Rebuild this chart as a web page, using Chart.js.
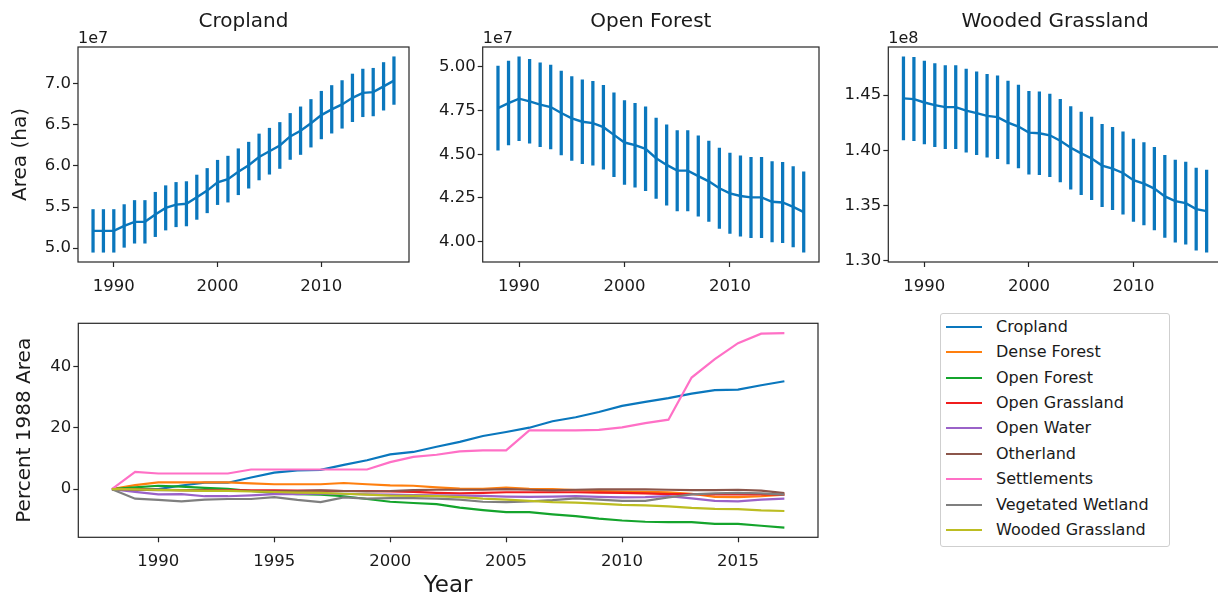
<!DOCTYPE html>
<html>
<head>
<meta charset="utf-8">
<script src="https://cdn.jsdelivr.net/npm/chart.js@4.4.1/dist/chart.umd.min.js"></script>
<style>
  html, body { margin: 0; padding: 0; background: #fff; width: 1218px; height: 598px; overflow: hidden; }
  canvas { position: absolute; }
  #legend { position: absolute; left: 940px; top: 313px; width: 228px; height: 232px;
            border: 1px solid #cfcfcf; border-radius: 3px; background: #fff;
            font-family: 'DejaVu Sans'; font-size: 16px; color: #1a1a1a; }
  #legend .row { position: absolute; left: 0; height: 20px; line-height: 20px; white-space: nowrap; }
  #legend .ln { position: absolute; left: 5px; top: 9px; width: 36px; height: 2px; }
  #legend .tx { position: absolute; left: 55px; top: 0; }
</style>
</head>
<body>
<canvas id="crop" width="415" height="300" style="left:0;top:0"></canvas>
<canvas id="openForest" width="405" height="300" style="left:420px;top:0"></canvas>
<canvas id="wooded" width="410" height="300" style="left:822px;top:0"></canvas>
<canvas id="percent" width="830" height="298" style="left:0;top:300px"></canvas>
<div id="legend"></div>
<script>
const years = [1988, 1989, 1990, 1991, 1992, 1993, 1994, 1995, 1996, 1997,
               1998, 1999, 2000, 2001, 2002, 2003, 2004, 2005, 2006, 2007,
               2008, 2009, 2010, 2011, 2012, 2013, 2014, 2015, 2016, 2017];

// top panels: mean area and error (scaled by 1e7 / 1e7 / 1e8)
const croplandArea = [5.21, 5.21, 5.21, 5.27, 5.32, 5.32, 5.41, 5.49, 5.53, 5.54,
                      5.62, 5.70, 5.80, 5.84, 5.93, 6.01, 6.11, 6.18, 6.25, 6.36,
                      6.43, 6.52, 6.62, 6.69, 6.75, 6.83, 6.89, 6.90, 6.97, 7.04];
const croplandErr = [0.26, 0.26, 0.26, 0.26, 0.26, 0.26, 0.27, 0.27, 0.27, 0.27,
                     0.27, 0.27, 0.27, 0.28, 0.28, 0.28, 0.28, 0.28, 0.28, 0.28,
                     0.29, 0.29, 0.29, 0.29, 0.29, 0.29, 0.29, 0.29, 0.29, 0.29];

const openForestArea = [4.764, 4.793, 4.818, 4.803, 4.784, 4.770, 4.736, 4.705, 4.686, 4.678,
                        4.655, 4.611, 4.567, 4.552, 4.531, 4.477, 4.439, 4.406, 4.406, 4.375,
                        4.345, 4.305, 4.276, 4.261, 4.253, 4.253, 4.228, 4.224, 4.199, 4.169];
const openForestErr = [0.24, 0.24, 0.24, 0.24, 0.24, 0.24, 0.24, 0.24, 0.24, 0.24,
                       0.24, 0.24, 0.24, 0.24, 0.24, 0.23, 0.23, 0.23, 0.23, 0.23,
                       0.23, 0.23, 0.23, 0.23, 0.23, 0.23, 0.23, 0.23, 0.23, 0.23];

const woodedArea = [1.4470, 1.4464, 1.4433, 1.4409, 1.4391, 1.4391, 1.4360, 1.4336, 1.4312, 1.4300,
                    1.4251, 1.4215, 1.4160, 1.4154, 1.4136, 1.4087, 1.4023, 1.3972, 1.3926, 1.3862,
                    1.3835, 1.3795, 1.3729, 1.3698, 1.3653, 1.3583, 1.3540, 1.3522, 1.3467, 1.3449];
const woodedErr = [0.0377, 0.0377, 0.0376, 0.0376, 0.0376, 0.0376, 0.0376, 0.0375, 0.0375, 0.0375,
                   0.0375, 0.0375, 0.0375, 0.0375, 0.0374, 0.0374, 0.0374, 0.0374, 0.0374, 0.0373,
                   0.0373, 0.0373, 0.0373, 0.0373, 0.0373, 0.0372, 0.0372, 0.0372, 0.0372, 0.0372];

// bottom panel: percent change vs 1988
const classNames = ['Cropland', 'Dense Forest', 'Open Forest', 'Open Grassland', 'Open Water',
                    'Otherland', 'Settlements', 'Vegetated Wetland', 'Wooded Grassland'];
const classColors = ['#0a77bd', '#ff7f0e', '#14a42c', '#f01c1c', '#9a62c8',
                     '#8c564b', '#ff70c6', '#7f7f7f', '#bcbd22'];

const pctCropland = [0, 0, 0, 1.2, 2.1, 2.1, 3.8, 5.4, 6.1, 6.3,
                     7.9, 9.4, 11.3, 12.1, 13.8, 15.4, 17.3, 18.6, 20.0, 22.1,
                     23.4, 25.1, 27.1, 28.4, 29.6, 31.1, 32.2, 32.4, 33.8, 35.1];
const pctDenseForest = [0, 1.3, 2.2, 2.2, 2.2, 2.2, 1.9, 1.6, 1.6, 1.6,
                        2.0, 1.6, 1.2, 1.1, 0.6, 0.2, 0.1, 0.5, 0.1, 0.0,
                        -0.3, -0.6, -0.8, -0.9, -1.0, -1.5, -2.5, -2.6, -2.3, -1.8];
const pctOpenForest = [0, 0.6, 1.1, 0.8, 0.4, 0.1, -0.6, -1.2, -1.6, -1.8,
                       -2.3, -3.2, -4.1, -4.5, -4.9, -6.0, -6.8, -7.5, -7.5, -8.2,
                       -8.8, -9.6, -10.2, -10.6, -10.7, -10.7, -11.3, -11.3, -11.9, -12.5];
const pctOpenGrassland = [0, -0.1, -0.2, -0.3, -0.3, -0.3, -0.4, -0.4, -0.5, -0.5,
                          -0.6, -0.6, -0.7, -0.9, -1.2, -1.4, -1.2, -1.0, -1.0, -1.0,
                          -1.0, -1.1, -1.2, -1.4, -1.6, -1.6, -1.7, -1.7, -1.7, -1.8];
const pctOpenWater = [0, -0.9, -1.7, -1.6, -2.3, -2.3, -2.0, -1.6, -1.6, -1.4,
                      -1.5, -1.7, -1.8, -1.9, -2.0, -2.1, -2.2, -2.4, -2.5, -2.4,
                      -2.3, -2.5, -2.7, -2.6, -2.3, -3.0, -3.8, -4.0, -3.4, -3.1];
const pctOtherland = [0, -0.2, -0.3, -0.3, -0.4, -0.5, -0.6, -0.7, -0.6, -0.4,
                      -0.6, -0.7, -0.6, -0.3, -0.2, -0.2, -0.2, 0.0, -0.2, -0.4,
                      -0.2, -0.1, -0.1, -0.1, -0.2, -0.3, -0.3, -0.2, -0.5, -1.3];
const pctSettlements = [0, 5.6, 5.1, 5.1, 5.1, 5.1, 6.4, 6.4, 6.4, 6.4,
                        6.4, 6.4, 8.8, 10.5, 11.2, 12.3, 12.6, 12.6, 19.1, 19.1,
                        19.1, 19.3, 20.1, 21.5, 22.6, 36.3, 42.3, 47.5, 50.6, 50.8];
const pctVegWetland = [0, -3.1, -3.5, -4.0, -3.4, -3.2, -3.2, -2.6, -3.5, -4.2,
                       -2.7, -3.1, -2.9, -2.9, -3.1, -3.4, -4.1, -4.2, -4.0, -3.6,
                       -3.0, -3.4, -3.8, -3.8, -2.7, -1.7, -1.4, -1.2, -1.4, -1.8];
const pctWooded = [0, -0.04, -0.26, -0.42, -0.55, -0.55, -0.76, -0.93, -1.1, -1.2,
                   -1.5, -1.8, -2.1, -2.2, -2.3, -2.6, -3.1, -3.4, -3.8, -4.2,
                   -4.4, -4.7, -5.1, -5.3, -5.6, -6.1, -6.4, -6.5, -6.9, -7.1];
const pctSeries = [pctCropland, pctDenseForest, pctOpenForest, pctOpenGrassland, pctOpenWater,
                   pctOtherland, pctSettlements, pctVegWetland, pctWooded];

const FONT = 'DejaVu Sans';
const TEXT = '#1a1a1a';
const AXIS = '#262626';
const BLUE = '#0a77bd';

// matplotlib-like frame round the plot area, plus the "1e7" offset label
const framePlugin = {
  id: 'frame',
  afterDraw(chart, args, opts) {
    const { ctx, chartArea: a } = chart;
    ctx.save();
    ctx.strokeStyle = AXIS;
    ctx.lineWidth = 1.2;
    ctx.strokeRect(a.left, a.top, a.right - a.left, a.bottom - a.top);
    if (opts.offsetText) {
      ctx.fillStyle = TEXT;
      ctx.font = '16px "' + FONT + '"';
      ctx.textAlign = 'left';
      ctx.textBaseline = 'alphabetic';
      ctx.fillText(opts.offsetText, a.left, a.top - 4.5);
    }
    ctx.restore();
  }
};

function pad(lo, hi) {
  const m = (hi - lo) * 0.05;
  return [lo - m, hi + m];
}
const [xMin, xMax] = pad(years[0], years[years.length - 1]);

function axisX(stepSize, height, title) {
  return {
    type: 'linear', min: xMin, max: xMax, offset: false,
    afterFit: s => { s.height = height; },
    grid: { drawOnChartArea: false, offset: false, tickLength: 5, color: AXIS, tickWidth: 1.2 },
    border: { display: false },
    ticks: { stepSize: stepSize, includeBounds: false, padding: 10, color: TEXT, maxRotation: 0,
             autoSkip: false, font: { family: FONT, size: 16.5 }, callback: v => String(v) },
    title: title ? { display: true, text: title, color: TEXT, font: { family: FONT, size: 23, lineHeight: 1 },
                     padding: { top: 0, bottom: 0.5 } } : { display: false }
  };
}

function axisY(min, max, stepSize, decimals, width, title, titlePad) {
  return {
    min: min, max: max,
    afterFit: s => { s.width = width; },
    grid: { drawOnChartArea: false, tickLength: 5, color: AXIS, tickWidth: 1.2 },
    border: { display: false },
    ticks: { stepSize: stepSize, includeBounds: false, padding: 2, color: TEXT,
             font: { family: FONT, size: 16.5 }, callback: v => v.toFixed(decimals) },
    title: title ? { display: true, text: title, color: TEXT, font: { family: FONT, size: 20 },
                     padding: { top: titlePad, bottom: 0 } } : { display: false }
  };
}

function topPanel(id, name, mean, err, offsetText, stepSize, decimals, yWidth, padRight, yTitle) {
  const lo = Math.min(...mean.map((m, i) => m - err[i]));
  const hi = Math.max(...mean.map((m, i) => m + err[i]));
  const [yMin, yMax] = pad(lo, hi);
  new Chart(document.getElementById(id), {
    type: 'line',
    data: {
      datasets: [
        {
          type: 'line',
          data: years.map((y, i) => ({ x: y, y: mean[i] })),
          borderColor: BLUE, borderWidth: 2.4, pointRadius: 0, tension: 0, order: 0
        },
        {
          type: 'bar',
          data: years.map((y, i) => ({ x: y, y: [mean[i] - err[i], mean[i] + err[i]] })),
          backgroundColor: BLUE, borderWidth: 0, barThickness: 2.6, grouped: false, order: 1
        }
      ]
    },
    options: {
      responsive: false, animation: false, events: [],
      layout: { padding: { left: 0, right: padRight, top: 0, bottom: 0 } },
      plugins: {
        legend: { display: false },
        tooltip: { enabled: false },
        title: { display: true, text: name, fullSize: false, color: TEXT,
                 font: { family: FONT, size: 20, weight: 'normal' },
                 padding: { top: 9.5, bottom: 13.5 } },
        frame: { offsetText: offsetText }
      },
      scales: {
        x: axisX(10, 38),
        y: axisY(yMin, yMax, stepSize, decimals, yWidth, yTitle, 9)
      }
    },
    plugins: [framePlugin]
  });
}

topPanel('crop', 'Cropland', croplandArea, croplandErr, '1e7', 0.5, 1, 78, 6, 'Area (ha)');
topPanel('openForest', 'Open Forest', openForestArea, openForestErr, '1e7', 0.25, 2, 62.7, 6, null);
topPanel('wooded', 'Wooded Grassland', woodedArea, woodedErr, '1e8', 0.05, 2, 66.3, 10.2, null);

// bottom panel
const allPct = pctSeries.flat();
const [pMin, pMax] = pad(Math.min(...allPct), Math.max(...allPct));
new Chart(document.getElementById('percent'), {
  type: 'line',
  data: {
    datasets: pctSeries.map((s, k) => ({
      label: classNames[k],
      data: years.map((y, i) => ({ x: y, y: s[i] })),
      borderColor: classColors[k], borderWidth: 2.2, pointRadius: 0, tension: 0,
      order: pctSeries.length - k
    }))
  },
  options: {
    responsive: false, animation: false, events: [],
    layout: { padding: { left: 0, right: 12, top: 23.3, bottom: 0 } },
    plugins: { legend: { display: false }, tooltip: { enabled: false }, frame: {} },
    scales: {
      x: axisX(5, 60.7, 'Year'),
      y: axisY(pMin, pMax, 20, 0, 78.3, 'Percent 1988 Area', 13)
    }
  },
  plugins: [framePlugin]
});

// legend box
const legend = document.getElementById('legend');
classNames.forEach((name, k) => {
  const row = document.createElement('div');
  row.className = 'row';
  row.style.top = (12.7 + k * 25.4 - 10) + 'px';
  row.style.width = '228px';
  row.innerHTML = '<span class="ln" style="background:' + classColors[k] + '"></span>' +
                  '<span class="tx">' + name + '</span>';
  legend.appendChild(row);
});
</script>
</body>
</html>
